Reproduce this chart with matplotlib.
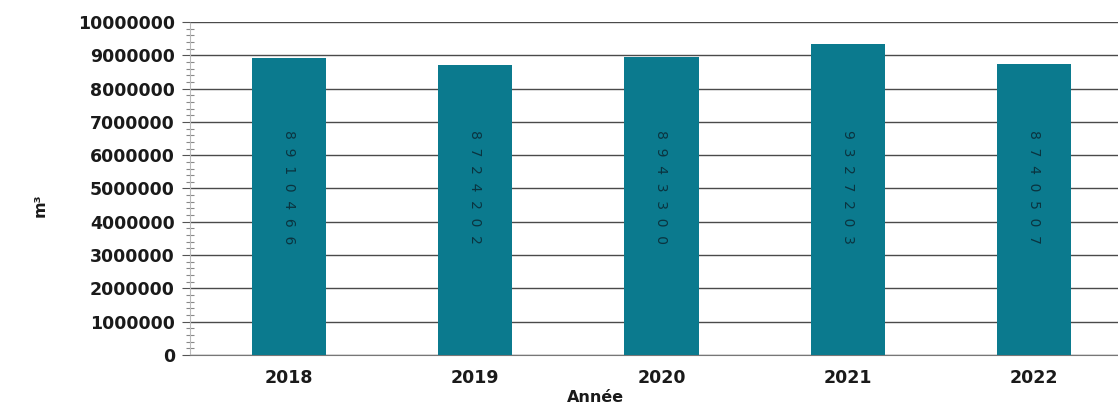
import matplotlib
matplotlib.use("Agg")
import matplotlib.pyplot as plt
from matplotlib.ticker import MultipleLocator

years = ["2018", "2019", "2020", "2021", "2022"]
volumes = [8910466, 8724202, 8943300, 9327203, 8740507]
y_ticks = [0, 1000000, 2000000, 3000000, 4000000, 5000000,
           6000000, 7000000, 8000000, 9000000, 10000000]

bar_color = "#0b7a8e"
label_color = "#0a3440"

fig = plt.figure(figsize=(11.18, 4.08), dpi=100)
ax = fig.add_axes([0.170, 0.130, 0.830, 0.816])

x = list(range(len(years)))
ax.bar(x, volumes, width=0.40, color=bar_color, zorder=3)

for xi, v in zip(x, volumes):
    spaced = "  ".join(str(v))
    ax.text(xi, 5050000, spaced, rotation=-90, ha="center", va="center",
            fontsize=10, color=label_color, zorder=4)

ax.set_xlim(-0.53, 4.45)
ax.set_ylim(0, 10000000)
ax.set_yticks(y_ticks)
ax.set_yticklabels([str(t) for t in y_ticks])
ax.yaxis.set_minor_locator(MultipleLocator(200000))
ax.set_xticks(x)
ax.set_xticklabels(years)

ax.grid(axis="y", which="major", color="#4a4a4a", linewidth=1.0, zorder=0)
ax.set_axisbelow(True)

for side in ("top", "right"):
    ax.spines[side].set_visible(False)
ax.spines["left"].set_color("#bbbbbb")
ax.spines["left"].set_linestyle((0, (2, 1)))
ax.spines["bottom"].set_color("#777777")

ax.tick_params(axis="y", which="major", length=6, color="#555555",
               labelsize=12.5, pad=5)
ax.tick_params(axis="y", which="minor", length=6, direction="inout",
               color="#888888", width=0.8)
ax.tick_params(axis="x", length=0, labelsize=12.5, pad=10)
for lab in ax.get_yticklabels() + ax.get_xticklabels():
    lab.set_fontweight("bold")
    lab.set_color("#1a1a1a")

fig.text(595 / 1118, 1 - 398 / 408, "Année", ha="center", va="center",
         fontsize=11.5, fontweight="bold", color="#1a1a1a")
fig.text(40 / 1118, 1 - 205 / 408, "m³", ha="center", va="center",
         rotation=90, fontsize=11.5, fontweight="bold", color="#1a1a1a")

fig.savefig("out.png", dpi=100)
